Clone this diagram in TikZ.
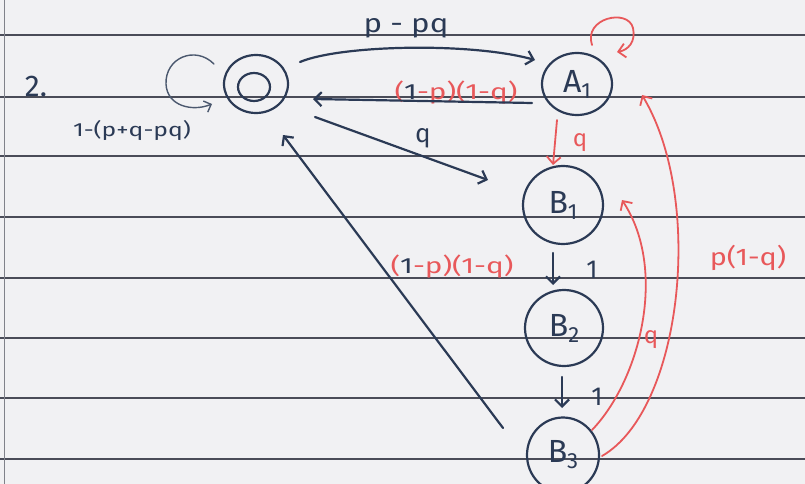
\documentclass[tikz,border=0pt]{standalone}
\usepackage{fontspec}
\setmainfont{Fira Sans}
\usetikzlibrary{arrows.meta,shapes.geometric}
\definecolor{ink}{HTML}{2B3A55}
\definecolor{redink}{HTML}{E8585A}
\definecolor{paper}{HTML}{F1F1F3}
\definecolor{rulecol}{HTML}{4A4C58}
\newcommand{\wide}[2]{\scalebox{#1}[1]{#2}}
\begin{document}
\begin{tikzpicture}[x=1pt,y=-1pt,line cap=round,
  state/.style={draw=ink,line width=2.2pt,ellipse,inner sep=0pt,font=\fontsize{32}{34}\selectfont,text=ink},
  hand/.style={draw=ink,line width=2.2pt,-{Straight Barb[length=7pt,width=14pt]}},
  redarr/.style={draw=redink,line width=1.8pt,-{Straight Barb[length=7pt,width=14pt]}},
  lbl/.style={text=ink,font=\fontsize{26}{28}\selectfont,inner sep=0pt},
  rlbl/.style={text=redink,font=\fontsize{22}{24}\selectfont,inner sep=0pt}]
\fill[paper] (0,0) rectangle (805,484);
\useasboundingbox (0,0) rectangle (805,484);
\foreach \yy in {35,97,156,217,278,338,398,459}
  \draw[rulecol,line width=1.2pt] (0,\yy) -- (805,\yy);
\draw[rulecol!70,line width=1pt] (4,0) -- (4,484);

% states
\node[state,minimum width=64pt,minimum height=58pt] (O) at (256,84) {};
\node[state,minimum width=32pt,minimum height=28pt] (Oin) at (254,87) {};
\node[state,minimum width=70pt,minimum height=62pt] (A1) at (577,84) {A\raisebox{-6pt}{\fontsize{22}{22}\selectfont 1}};
\node[state,minimum width=80pt,minimum height=78pt] (B1) at (563,205) {B\raisebox{-6pt}{\fontsize{22}{22}\selectfont 1}};
\node[state,minimum width=78pt,minimum height=76pt] (B2) at (564,328) {B\raisebox{-6pt}{\fontsize{22}{22}\selectfont 2}};
\node[state,minimum width=72pt,minimum height=75pt] (B3) at (563,455) {B\raisebox{-6pt}{\fontsize{22}{22}\selectfont 3}};

% texts
\node[lbl,font=\fontsize{30}{32}\selectfont] (num) at (36,86) {2.};
\node[lbl,font=\fontsize{19}{21}\selectfont] (lo) at (132,130) {\wide{1.3}{1-(p+q-pq)}};
\node[lbl] (lOA) at (406,28) {\wide{1.2}{p - pq}};
\node[lbl] (lOB) at (423,138) {q};
\node[rlbl] (lAO) at (456,93) {\wide{1.35}{({\color{ink}1}-p)(1-q)}};
\node[rlbl,font=\fontsize{24}{26}\selectfont] (lAB) at (580,143) {q};
\node[lbl] (l12) at (592,270) {1};
\node[lbl] (l23) at (597,397) {1};
\node[rlbl] (lBO) at (452,267) {\wide{1.35}{({\color{ink}1}-p)(1-q)}};
\node[rlbl,font=\fontsize{24}{26}\selectfont] (lB3B1) at (651,340) {q};
\node[rlbl,font=\fontsize{24}{26}\selectfont] (lB3A1) at (748,258) {\wide{1.2}{p(1-q)}};

% connectors
\draw[draw=ink!85,line width=1.4pt,-{Straight Barb[length=6pt,width=12pt]}]
  ([shift={(-42,-20)}]O.center) .. controls (195,45) and (165,58) .. (166,84)
  .. controls (167,106) and (192,112) .. ([shift={(-44,20)}]O.center);
\draw[hand] ([shift={(44,-22)}]O.center) .. controls (340,45) and (470,42) .. ([shift={(-42,-24)}]A1.center);
\draw[hand] ([shift={(-45,19)}]A1.center) -- ([shift={(57,15)}]O.center);
\draw[hand] ([shift={(59,33)}]O.center) -- ([shift={(-75,-25)}]B1.center);
\draw[hand] ([shift={(-60,-27)}]B3.center) -- ([shift={(27,51)}]O.center);
\draw[hand] ([shift={(-10,48)}]B1.center) -- ([shift={(-11,-43)}]B2.center);
\draw[hand] ([shift={(-2,49)}]B2.center) -- ([shift={(-1,-47)}]B3.center);
\draw[redarr] ([shift={(-20,36)}]A1.center) -- ([shift={(-10,-40)}]B1.center);
\draw[redarr] ([shift={(15,-39)}]A1.center) .. controls (583,18) and (628,8) .. (633,28)
  .. controls (636,42) and (628,50) .. ([shift={(40,-32)}]A1.center);
\draw[redarr] ([shift={(29,-25)}]B3.center) .. controls (640,380) and (668,270) .. ([shift={(59,-5)}]B1.center);
\draw[redarr] ([shift={(39,1)}]B3.center) .. controls (682,410) and (705,200) .. ([shift={(65,11)}]A1.center);
\end{tikzpicture}
\end{document}
